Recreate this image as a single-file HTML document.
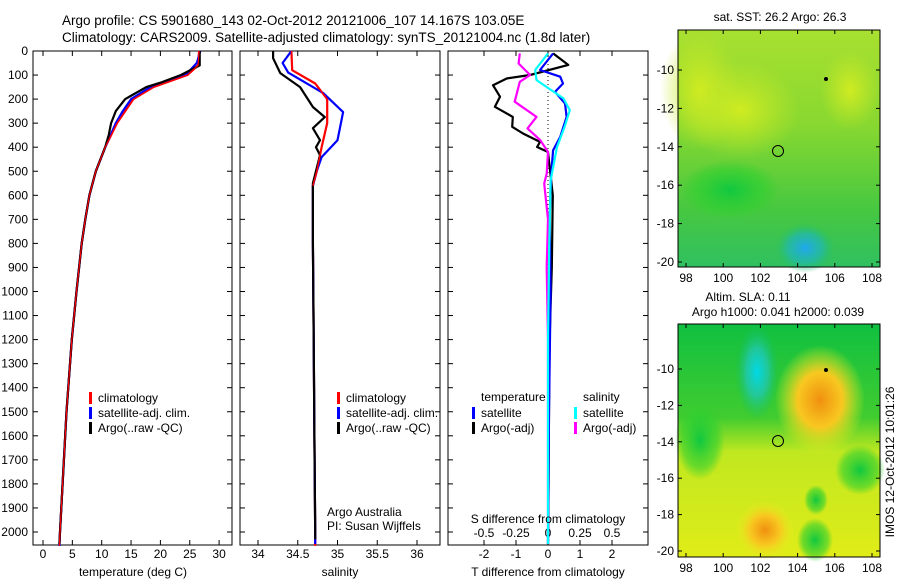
<!DOCTYPE html>
<html><head><meta charset="utf-8"><style>
body{margin:0;background:#fff;}
svg{display:block;font-family:"Liberation Sans",sans-serif;}
text{font-size:12px;fill:#000;}
</style></head><body>
<svg id="c" width="900" height="580" viewBox="0 0 900 580">
<defs>
<radialGradient id="gB1"><stop offset="0" stop-color="#1fa8f0"/><stop offset="0.6" stop-color="#20b8b0" stop-opacity="0.7"/><stop offset="1" stop-color="#20c060" stop-opacity="0"/></radialGradient>
<radialGradient id="gB2"><stop offset="0" stop-color="#00d8e8"/><stop offset="0.5" stop-color="#20c8b0" stop-opacity="0.8"/><stop offset="1" stop-color="#10c060" stop-opacity="0"/></radialGradient>
<radialGradient id="gO"><stop offset="0" stop-color="#f09010"/><stop offset="0.5" stop-color="#f8c820"/><stop offset="1" stop-color="#e8f020" stop-opacity="0"/></radialGradient>
<radialGradient id="gG"><stop offset="0" stop-color="#10c840"/><stop offset="0.7" stop-color="#30d030" stop-opacity="0.6"/><stop offset="1" stop-color="#30d030" stop-opacity="0"/></radialGradient>
<radialGradient id="gY"><stop offset="0" stop-color="#d0ec20"/><stop offset="1" stop-color="#c8e828" stop-opacity="0"/></radialGradient>
<linearGradient id="gTop" x1="0" y1="0" x2="0" y2="1"><stop offset="0" stop-color="#a8e030"/><stop offset="0.4" stop-color="#88d830"/><stop offset="0.75" stop-color="#48c840"/><stop offset="1" stop-color="#30c060"/></linearGradient>
<linearGradient id="gBot" x1="0" y1="0" x2="0" y2="1"><stop offset="0" stop-color="#10c040"/><stop offset="0.4" stop-color="#40cc30"/><stop offset="0.55" stop-color="#c0e820"/><stop offset="1" stop-color="#e0ec18"/></linearGradient>
</defs>
<g id="g"></g>
</svg>
<script>
// ---------- data ----------
const depthTicks=[0,100,200,300,400,500,600,700,800,900,1000,1100,1200,1300,1400,1500,1600,1700,1800,1900,2000];
const tempTicks=[0,5,10,15,20,25,30];
const salTicks=[34,34.5,35,35.5,36];
const tdTicks=[-2,-1,0,1,2];
const sdTickLabels=["-0.5","-0.25","0","0.25","0.5"];
const sdTicks=[-0.5,-0.25,0,0.25,0.5];

const tClimD=[0,60,100,150,200,250,300,400,500,600,700,800,1000,1200,1500,2000,2058];
const tClimV=[26.6,26.4,24.6,18.8,15.4,14.0,12.6,10.6,9.0,7.9,7.2,6.6,5.7,4.9,4.0,2.9,2.8];
const tSatD=[0,50,100,150,200,250,300,400,500,600,700,800,1000,1200,1500,2000,2058];
const tSatV=[26.8,26.2,24.3,18.3,15.0,13.6,12.4,10.6,9.0,7.9,7.2,6.6,5.7,4.9,4.0,2.9,2.8];
const tArgoD=[0,60,100,130,150,200,250,300,350,400,500,600,700,800,1000,1200,1500,2000,2050];
const tArgoV=[26.7,26.7,23.5,20.2,17.6,14.0,12.4,11.6,11.2,10.6,9.0,7.9,7.2,6.6,5.7,4.9,4.0,2.9,2.8];

const sClimD=[0,80,135,200,300,400,500,560,800,1200,1600,2000,2058];
const sClimV=[34.42,34.43,34.72,34.87,34.87,34.80,34.74,34.69,34.69,34.70,34.71,34.72,34.72];
const sSatD=[0,50,90,175,254,371,441,508,560,800,1200,1600,2000,2050];
const sSatV=[34.42,34.31,34.38,34.82,35.07,35.00,34.80,34.73,34.69,34.69,34.70,34.71,34.72,34.72];
const sArgoD=[0,30,92,150,233,275,321,371,400,433,550,800,1200,1600,2000,2030];
const sArgoV=[34.19,34.19,34.28,34.53,34.69,34.84,34.69,34.78,34.73,34.78,34.69,34.69,34.70,34.71,34.72,34.72];

const dArgoTD=[10,58,100,114,142,190,232,274,315,343,378,399,420,600,900,1200,1500,1800,2050];
const dArgoTV=[0.16,0.63,-0.56,-1.28,-1.72,-1.5,-1.66,-1.1,-1.12,-0.78,-0.25,-0.34,0,0.15,0.12,0.05,0.03,0.02,0];
const dSatTD=[10,79,107,135,170,218,274,357,413,510,700,1000,1500,2050];
const dSatTV=[0.16,-0.25,0.38,0.47,0.22,0.53,0.58,0.38,0.16,0.1,0.05,0.08,0.03,0];
const dArgoSD=[10,52,100,128,211,274,322,371,420,510,551,700,900,1200,1500,2050];
const dArgoSV=[-0.22,-0.23,-0.14,-0.22,-0.26,-0.09,-0.16,-0.06,0,-0.01,-0.03,0,-0.01,0,0,0];
const dSatSD=[10,79,121,197,246,315,399,538,800,1200,1600,2050];
const dSatSV=[0,-0.1,-0.09,0.12,0.17,0.13,0.07,0.02,0.01,0,0,0];

const lonTicks=[98,100,102,104,106,108];
const latTicks=[-10,-12,-14,-16,-18,-20];

// ---------- helpers ----------
const NS="http://www.w3.org/2000/svg";
const G=document.getElementById('g');
const BOT=545;
function el(t,a,p){const e=document.createElementNS(NS,t);for(const k in a)e.setAttribute(k,a[k]);(p||G).appendChild(e);return e;}
function txt(x,y,s,anchor,p){const e=el('text',{x:x,y:y,'text-anchor':anchor||'start'},p);e.textContent=s;return e;}
const Y=d=>51+d*0.2405;
const xT=v=>43+v*5.87;
const xS=v=>258+(v-34)*79.5;
const xTD=v=>548+v*32;
const xSD=v=>548+v*128;

function line(D,V,fx,col,name,w){
  let p=D.map((d,i)=>(i?'L':'M')+fx(V[i]).toFixed(1)+' '+Y(d).toFixed(1)).join(' ');
  const e=el('path',{d:p,fill:'none',stroke:col,'stroke-width':w||2.2,'stroke-linejoin':'round'});
  
  
}
function frame(x0,x1,name){
  const r=el('rect',{x:x0,y:51,width:x1-x0,height:BOT-51,fill:'none',stroke:'#000','stroke-width':1});
  
  
  depthTicks.forEach(d=>{el('line',{x1:x0,x2:x0+5,y1:Y(d),y2:Y(d),stroke:'#000'});el('line',{x1:x1-5,x2:x1,y1:Y(d),y2:Y(d),stroke:'#000'});});
}
function xticks(vals,f,labels,ly){
  vals.forEach((v,i)=>{const x=f(v);el('line',{x1:x,x2:x,y1:BOT-5,y2:BOT,stroke:'#000'});el('line',{x1:x,x2:x,y1:51,y2:56,stroke:'#000'});
    const t=txt(x,ly,labels?labels[i]:String(v),'middle');});
}

// titles
let t1=txt(62,25,"Argo profile: CS 5901680_143 02-Oct-2012 20121006_107 14.167S 103.05E");t1.setAttribute('style','font-size:13.5px');
let t2=txt(62,42,"Climatology: CARS2009. Satellite-adjusted climatology: synTS_20121004.nc (1.8d later)");t2.setAttribute('style','font-size:13.5px');

// panel 1 temperature
frame(33,232,'temperature-panel');
depthTicks.forEach(d=>{const t=txt(28,Y(d)+4,String(d),'end');});
xticks(tempTicks,xT,null,558);
line(tClimD,tClimV,xT,'#f00','temp-climatology');
line(tSatD,tSatV,xT,'#00f','temp-satellite-clim');
line(tArgoD,tArgoV,xT,'#000','temp-argo');
line(tClimD,tClimV,xT,'#f00','temp-climatology-dash',1.2);
let xl=txt(133,576,"temperature (deg C)",'middle');
function legend(x,y,items,name){items.forEach((it,i)=>{el('rect',{x:x,y:y+i*15-9,width:3,height:12,fill:it[0]});const t=txt(x+9,y+i*15+1,it[1]);});}
legend(89,401,[['#f00','climatology'],['#00f','satellite-adj. clim.'],['#000','Argo(..raw -QC)']],'temp-legend');

// panel 2 salinity
frame(240,440,'salinity-panel');
xticks(salTicks,xS,null,558);
line(sClimD,sClimV,xS,'#f00','salinity-climatology');
line(sSatD,sSatV,xS,'#00f','salinity-satellite-clim');
line(sArgoD,sArgoV,xS,'#000','salinity-argo');
line(sClimD.slice(0,8),sClimV.slice(0,8),xS,'#f00','salinity-climatology-top',1.5);
let sl=txt(340,576,"salinity",'middle');
legend(337,401,[['#f00','climatology'],['#00f','satellite-adj. clim.'],['#000','Argo(..raw -QC)']],'sal-legend');
let a1=txt(327,516,"Argo Australia");
let a2=txt(327,530,"PI: Susan Wijffels");

// panel 3 differences
frame(448,648,'difference-panel');
xticks(tdTicks,xTD,null,558);
sdTicks.forEach((v,i)=>{const t=txt(xSD(v),537,sdTickLabels[i],'middle');});
el('line',{x1:548,x2:548,y1:56,y2:BOT-5,stroke:'#000','stroke-dasharray':'1,3'});
line(dArgoTD,dArgoTV,xTD,'#000','t-diff-argo');
line(dSatTD,dSatTV,xTD,'#00f','t-diff-satellite');
line(dArgoSD,dArgoSV,xSD,'#f0f','s-diff-argo');
line(dSatSD,dSatSV,xSD,'#0ff','s-diff-satellite');
let d1=txt(548,523,"S difference from climatology",'middle');
let d2=txt(548,576,"T difference from climatology",'middle');
let lt=txt(481,401,"temperature");
let ls=txt(583,401,"salinity");
legend(472,416,[['#00f','satellite'],['#000','Argo(-adj)']],'tdiff-legend');
legend(574,416,[['#0ff','satellite'],['#f0f','Argo(-adj)']],'sdiff-legend');

// maps
function map(y0,y1,latY0,latStep,bg,blobs,name,circ,dot){
  const g=el('g',{});
  el('rect',{x:678,y:y0,width:202,height:y1-y0,fill:bg},g);
  blobs.forEach(b=>el('ellipse',{cx:b[0],cy:b[1],rx:b[2],ry:b[3],fill:b[4]},g));
  el('rect',{x:678,y:y0,width:202,height:y1-y0,fill:'none',stroke:'#000'},g);
  const lonX=v=>686+(v-98)*18.6;
  lonTicks.forEach(v=>{const x=lonX(v);el('line',{x1:x,x2:x,y1:y1-4,y2:y1,stroke:'#000'},g);el('line',{x1:x,x2:x,y1:y0,y2:y0+4,stroke:'#000'},g);const t=txt(x,y1+15,String(v),'middle',g);});
  latTicks.forEach((v,i)=>{const y=latY0+i*latStep;el('line',{x1:678,x2:682,y1:y,y2:y,stroke:'#000'},g);el('line',{x1:876,x2:880,y1:y,y2:y,stroke:'#000'},g);const t=txt(674,y+4,String(v),'end',g);});
  const c=el('circle',{cx:circ[0],cy:circ[1],r:5.5,fill:'none',stroke:'#000','stroke-width':1},g);
  el('circle',{cx:dot[0],cy:dot[1],r:2,fill:'#000'},g);
}
map(30,267,70,38.4,'url(#gTop)',[
 [700,90,40,60,'url(#gY)'],[740,110,60,50,'url(#gY)'],[805,248,30,25,'url(#gB1)'],[850,90,30,40,'url(#gY)'],[730,190,50,30,'url(#gG)']],
 'sst-map',[778,151],[826,79]);
map(324,557,369,36.4,'url(#gBot)',[
 [757,372,22,48,'url(#gB2)'],[820,400,45,55,'url(#gO)'],[765,530,30,30,'url(#gO)'],[815,540,18,22,'url(#gG)'],[816,500,12,15,'url(#gG)'],[860,470,25,25,'url(#gG)'],[700,440,25,40,'url(#gG)']],
 'sla-map',[778,441],[826,370]);
let m1=txt(780,21,"sat. SST: 26.2 Argo: 26.3",'middle');
let m2=txt(748,301,"Altim. SLA: 0.11",'middle');
let m3=txt(778,316,"Argo h1000: 0.041 h2000: 0.039",'middle');
let v=txt(0,0,"IMOS 12-Oct-2012 10:01:26",'middle');v.setAttribute('transform','translate(894,462) rotate(-90)');
</script>
</body></html>
